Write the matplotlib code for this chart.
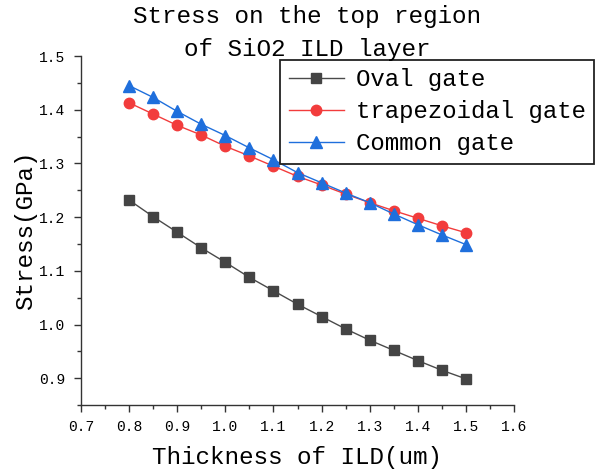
import numpy as np
import matplotlib
matplotlib.use("Agg")
import matplotlib.pyplot as plt
from matplotlib.ticker import MultipleLocator

# thickness of ILD (um)
thickness = [0.80, 0.85, 0.90, 0.95, 1.00, 1.05, 1.10, 1.15,
             1.20, 1.25, 1.30, 1.35, 1.40, 1.45, 1.50]

# stress (GPa)
oval = [1.232, 1.201, 1.172, 1.143, 1.116, 1.088, 1.063, 1.038,
        1.015, 0.992, 0.971, 0.952, 0.933, 0.915, 0.899]
trapezoidal = [1.413, 1.392, 1.371, 1.353, 1.332, 1.314, 1.295, 1.276,
               1.260, 1.243, 1.227, 1.212, 1.198, 1.184, 1.171]
common = [1.445, 1.423, 1.397, 1.373, 1.352, 1.329, 1.307, 1.283,
          1.264, 1.245, 1.227, 1.206, 1.186, 1.167, 1.149]

labels = ["Oval gate", "trapezoidal gate", "Common gate"]
xticks = [0.7, 0.8, 0.9, 1.0, 1.1, 1.2, 1.3, 1.4, 1.5, 1.6]
yticks = [0.9, 1.0, 1.1, 1.2, 1.3, 1.4, 1.5]

plt.rcParams['font.family'] = ['Liberation Mono', 'DejaVu Sans Mono']

fig = plt.figure(figsize=(5.95, 4.75), dpi=100)
ax = fig.add_axes([0.136, 0.147, 0.728, 0.735])

ax.plot(thickness, oval, color='#4a4a4a', lw=1.0, marker='s', ms=7,
        mfc='#444444', mec='#444444', label=labels[0])
ax.plot(thickness, trapezoidal, color='#f23c3c', lw=1.0, marker='o', ms=7.5,
        mfc='#f23c3c', mec='#f23c3c', label=labels[1])
ax.plot(thickness, common, color='#1f6fdc', lw=1.0, marker='^', ms=8,
        mfc='#1f6fdc', mec='#1f6fdc', label=labels[2])

ax.set_xlim(0.7, 1.6)
ax.set_ylim(0.85, 1.5)
ax.set_xticks(xticks)
ax.set_yticks(yticks)
ax.set_xticklabels([f"{v:.1f}" for v in xticks])
ax.set_yticklabels([f"{v:.1f}" for v in yticks])
ax.xaxis.set_minor_locator(MultipleLocator(0.05))
ax.yaxis.set_minor_locator(MultipleLocator(0.05))
ax.tick_params(which='major', direction='out', length=5, width=1.0,
               color='#333333', labelsize=10.5, pad=6)
ax.tick_params(which='minor', direction='out', length=3, width=1.0,
               color='#333333')

for side in ['top', 'right']:
    ax.spines[side].set_visible(False)
for side in ['left', 'bottom']:
    ax.spines[side].set_color('#333333')
    ax.spines[side].set_linewidth(1.0)

ax.set_xlabel("Thickness of ILD(um)", fontsize=17.5, labelpad=8)
ax.set_ylabel("Stress(GPa)", fontsize=17.5, labelpad=2)

fig.text(0.516, 0.965, "Stress on the top region", ha='center', va='center',
         fontsize=17.5)
fig.text(0.516, 0.895, "of SiO2 ILD layer", ha='center', va='center',
         fontsize=17.5)

# legend box runs off the right edge of the figure, like the original
leg = ax.legend(loc='upper left', bbox_to_anchor=(0.46, 0.99),
                fontsize=17.3, frameon=True, fancybox=False,
                handlelength=2.3, handletextpad=0.5, borderpad=0.35,
                labelspacing=0.38, borderaxespad=0)
leg.get_frame().set_edgecolor('#222222')
leg.get_frame().set_linewidth(1.3)
leg.get_frame().set_alpha(1.0)

fig.savefig("out.png", dpi=100)
